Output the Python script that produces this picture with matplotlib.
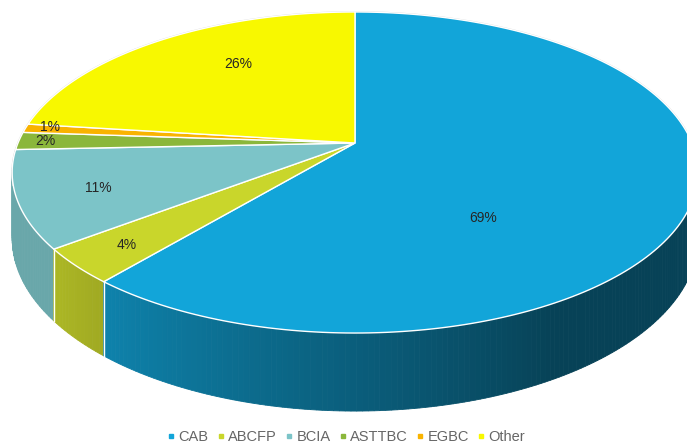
import numpy as np
import matplotlib.pyplot as plt
from matplotlib.patches import Polygon
from matplotlib.lines import Line2D
import matplotlib.colors as mcolors

plt.rcParams['font.family'] = ['Liberation Sans', 'DejaVu Sans']

# data
labels = ['CAB', 'ABCFP', 'BCIA', 'ASTTBC', 'EGBC', 'Other']
values = [69, 4, 11, 2, 1, 26]
pct_text = ['69%', '4%', '11%', '2%', '1%', '26%']
colors = ['#12a5d9', '#c9d62b', '#7cc4c8', '#8bb73b', '#f9b300', '#f8f800']

# where the percent labels sit (pixels)
label_xy = [(483, 218), (127, 245), (98, 188), (45, 141), (50, 127), (238, 64)]

# pie geometry (pixels), simple perspective tilt
CX, CY = 355, 143
SX, SY = 337, 155.1
PERSP = 0.1838
DEPTH = 63.7


def project(t, drop=0.0):
    u, v = np.cos(t), np.sin(t)
    w = 1 + PERSP * v
    return CX + SX * u / w, CY - SY * v / w + drop / w


def shade(tdeg):
    # side wall gets darker towards the right
    return 0.40 + 0.45 * np.clip((-tdeg - 60) / 80, 0, 1)


fig = plt.figure(figsize=(6.87, 4.44), dpi=100)
ax = fig.add_axes([0, 0, 1, 1])
ax.set_xlim(0, 687)
ax.set_ylim(444, 0)
ax.axis('off')

total = float(sum(values))
cum = np.concatenate([[0], np.cumsum(values)]) / total
bounds = 90 - 360 * cum  # degrees, clockwise from 12 o'clock

# side walls (front half only), drawn back to front
quads = []
for i in range(len(values)):
    a, b = bounds[i + 1], bounds[i]
    for k in (-360, 0, 360):
        lo, hi = max(a + k, -180), min(b + k, 0)
        if hi <= lo:
            continue
        n = max(2, int((hi - lo) / 0.8) + 1)
        ts = np.linspace(lo, hi, n)
        for t0, t1 in zip(ts[:-1], ts[1:]):
            tm = 0.5 * (t0 + t1)
            r0, r1 = np.radians(t0), np.radians(t1)
            pts = [project(r0), project(r1), project(r1, DEPTH), project(r0, DEPTH)]
            rgb = np.array(mcolors.to_rgb(colors[i])) * shade(tm)
            quads.append((np.sin(np.radians(tm)), pts, rgb))

quads.sort(key=lambda q: -q[0])
for _, pts, rgb in quads:
    ax.add_patch(Polygon(pts, closed=True, facecolor=rgb, edgecolor=rgb,
                         linewidth=0.6, zorder=1))

# white seams between walls
for bd in bounds:
    for k in (-360, 0, 360):
        t = bd + k
        if -175 < t < -5:
            r = np.radians(t)
            x0, y0 = project(r)
            x1, y1 = project(r, DEPTH)
            ax.plot([x0, x1], [y0, y1], color='white', lw=1.0, zorder=2)

# faint outline of the back rim
tb = np.radians(np.linspace(-15, 195, 300))
bx, by = project(tb)
ax.plot(bx, by, color='#d8d8d8', lw=1.2, zorder=2.5)

# top surface
for i in range(len(values)):
    ts = np.radians(np.linspace(bounds[i], bounds[i + 1], 200))
    xs, ys = project(ts)
    pts = [(CX, CY)] + list(zip(xs, ys))
    ax.add_patch(Polygon(pts, closed=True, facecolor=colors[i], edgecolor='white',
                         linewidth=1.0, zorder=3))
    ax.text(label_xy[i][0], label_xy[i][1], pct_text[i], ha='center', va='center',
            fontsize=10, color='#262626', zorder=4)

handles = [Line2D([], [], marker='s', ls='', markersize=3.5, color=c) for c in colors]
leg = fig.legend(handles, labels, loc='center', bbox_to_anchor=(0.505, 0.015), ncol=6,
                 frameon=False, fontsize=10.5, handlelength=0.3, handletextpad=0.35,
                 columnspacing=0.7)
for txt in leg.get_texts():
    txt.set_color('#666666')

fig.savefig('out.png', dpi=100)
